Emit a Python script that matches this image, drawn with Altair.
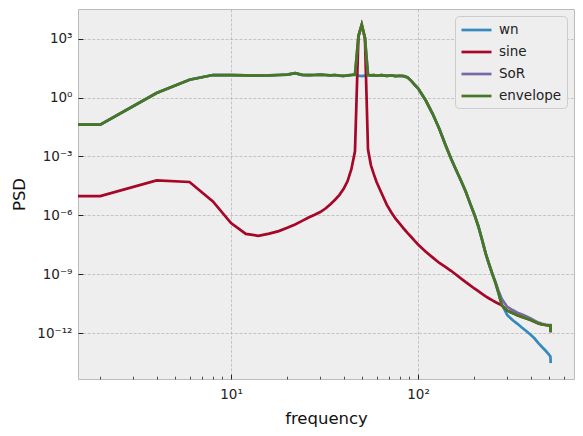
import altair as alt
import pandas as pd

# ---- data (PSD values given as log10 exponents) ----
freq = [1, 2, 4, 6, 8, 10, 12, 14, 16, 18, 20, 22, 24, 26, 28, 30, 32, 34, 36, 38,
        40, 42, 44, 46, 48, 50, 52, 54, 56, 58, 60, 64, 68, 72, 76, 80, 84, 88, 92, 96,
        100, 110, 120, 130, 140, 150, 160, 170, 180, 190, 200, 210, 220, 230, 240, 250,
        260, 270, 280, 290, 300, 320, 340, 360, 380, 400, 420, 440, 460, 480, 500, 510, 512]

wn_log10 = [-1.38, -1.38, 0.23, 0.91, 1.15, 1.14, 1.13, 1.12, 1.13, 1.15, 1.17, 1.24, 1.16, 1.14, 1.15, 1.17, 1.15, 1.13, 1.15, 1.12,
            1.10, 1.13, 1.15, 1.17, 1.12, 1.09, 1.12, 1.15, 1.13, 1.14, 1.12, 1.14, 1.11, 1.13, 1.09, 1.11, 1.09, 1.02, 0.85, 0.65,
            0.47, -0.15, -0.85, -1.6, -2.4, -3.1, -3.7, -4.25, -4.8, -5.4, -5.95, -6.55, -7.25, -7.95, -8.5, -9.0,
            -9.47, -10.0, -10.55, -10.8, -11.08, -11.33, -11.52, -11.72, -11.9, -12.08, -12.27, -12.5, -12.7, -12.88, -13.08, -13.18, -13.52]

sine_log10 = [-5.02, -5.02, -4.22, -4.30, -5.29, -6.39, -6.94, -7.04, -6.93, -6.8, -6.63, -6.46, -6.28, -6.11, -5.97, -5.83, -5.65, -5.43, -5.2, -4.95,
              -4.65, -4.25, -3.65, -2.74, 3.12, 3.71, 3.04, -2.65, -3.45, -3.9, -4.3, -4.9, -5.45, -5.85, -6.18, -6.43, -6.68, -6.9, -7.1, -7.3,
              -7.48, -7.85, -8.15, -8.42, -8.62, -8.82, -9.02, -9.22, -9.4, -9.56, -9.72, -9.86, -10.0, -10.12, -10.23, -10.33,
              -10.42, -10.5, -10.57, -10.72, -10.85, -10.97, -11.08, -11.17, -11.25, -11.33, -11.42, -11.5, -11.55, -11.58, -11.6, -11.6, -11.95]

sor_log10 = [-1.38, -1.38, 0.23, 0.91, 1.15, 1.14, 1.13, 1.12, 1.13, 1.15, 1.17, 1.24, 1.16, 1.14, 1.15, 1.17, 1.15, 1.13, 1.15, 1.12,
             1.10, 1.13, 1.15, 1.17, 3.12, 3.71, 3.04, 1.15, 1.13, 1.14, 1.12, 1.14, 1.11, 1.13, 1.09, 1.11, 1.09, 1.02, 0.85, 0.65,
             0.47, -0.15, -0.85, -1.6, -2.4, -3.1, -3.7, -4.25, -4.8, -5.4, -5.95, -6.55, -7.25, -7.95, -8.5, -9.0,
             -9.42, -9.88, -10.25, -10.46, -10.66, -10.82, -10.95, -11.05, -11.15, -11.25, -11.36, -11.46, -11.52, -11.56, -11.59, -11.59, -11.94]

env_log10 = [-1.38, -1.38, 0.23, 0.91, 1.15, 1.14, 1.13, 1.12, 1.13, 1.15, 1.17, 1.24, 1.16, 1.14, 1.15, 1.17, 1.15, 1.13, 1.15, 1.12,
             1.10, 1.13, 1.15, 1.17, 3.12, 3.71, 3.04, 1.15, 1.13, 1.14, 1.12, 1.14, 1.11, 1.13, 1.09, 1.11, 1.09, 1.02, 0.85, 0.65,
             0.47, -0.15, -0.85, -1.6, -2.4, -3.1, -3.7, -4.25, -4.8, -5.4, -5.95, -6.55, -7.25, -7.95, -8.5, -9.0,
             -9.47, -10.0, -10.55, -10.72, -10.85, -10.97, -11.08, -11.17, -11.25, -11.33, -11.42, -11.5, -11.55, -11.58, -11.6, -11.6, -11.95]

series_names = ["wn", "sine", "SoR", "envelope"]
series_colors = ["#348ABD", "#A60628", "#7A68A6", "#467821"]

x_major_ticks = [10, 100]
x_minor_ticks = [2, 3, 4, 5, 6, 7, 8, 9, 20, 30, 40, 50, 60, 70, 80, 90, 200, 300, 400, 500, 600]
y_major_ticks = [1e3, 1e0, 1e-3, 1e-6, 1e-9, 1e-12]

rows = []
for name, vals in zip(series_names, [wn_log10, sine_log10, sor_log10, env_log10]):
    for f, v in zip(freq, vals):
        rows.append({"frequency": f, "PSD": 10.0 ** v, "series": name})
df = pd.DataFrame(rows)

FONT = "DejaVu Sans"
xscale = alt.Scale(type="log", domain=[1.52, 682], nice=False)
yscale = alt.Scale(type="log", domain=[10 ** -14.33, 10 ** 4.51], nice=False)

TICK = 4.8
x_axis = alt.Axis(
    values=x_major_ticks, title="frequency", offset=-TICK, tickSize=TICK, tickColor="#222222",
    tickWidth=1, domain=False, grid=True, gridColor="#b2b2b2", gridDash=[3, 1.6], gridWidth=0.7,
    labelExpr="datum.value > 50 ? '10²' : '10¹'", labelFont=FONT, labelFontSize=13.5,
    labelColor="#222222", labelPadding=8, titleFont=FONT, titleFontSize=16.5,
    titleFontWeight="normal", titleColor="#111111", titlePadding=10,
)
y_axis = alt.Axis(
    values=y_major_ticks, title="PSD", offset=-TICK, tickSize=TICK, tickColor="#222222",
    tickWidth=1, domain=False, grid=True, gridColor="#b2b2b2", gridDash=[3, 1.6], gridWidth=0.7,
    labelExpr=("datum.value > 100 ? '10³' : datum.value > 0.1 ? '10⁰' : "
               "datum.value > 0.0001 ? '10⁻³' : datum.value > 0.0000001 ? '10⁻⁶' : "
               "datum.value > 0.0000000001 ? '10⁻⁹' : '10⁻¹²'"),
    labelFont=FONT, labelFontSize=13.5, labelColor="#222222", labelPadding=6,
    titleFont=FONT, titleFontSize=16.5, titleFontWeight="normal", titleColor="#111111",
    titlePadding=9,
)
x_minor_axis = alt.Axis(
    values=x_minor_ticks, title=None, offset=-2.8, tickSize=2.8, tickWidth=0.8,
    tickColor="#222222", domain=False, grid=False, labels=False, orient="bottom",
)

color = alt.Color(
    "series:N",
    scale=alt.Scale(domain=series_names, range=series_colors),
    legend=alt.Legend(
        title=None, orient="top-right", offset=7, symbolType="M-1,0H3", symbolSize=225,
        symbolStrokeWidth=2.7, labelFont=FONT, labelFontSize=13.5, labelColor="#222222",
        labelOffset=21, rowPadding=6, padding=5, fillColor="#eeeeee",
        strokeColor="#cccccc", cornerRadius=4,
    ),
)

layers = []
for i, name in enumerate(series_names):
    layers.append(
        alt.Chart(df[df["series"] == name])
        .mark_line(strokeWidth=2.7, clip=True)
        .encode(
            x=alt.X("frequency:Q", scale=xscale, axis=x_axis if i == 0 else None),
            y=alt.Y("PSD:Q", scale=yscale, axis=y_axis),
            color=color,
        )
    )

minor = (
    alt.Chart(df[df["series"] == "wn"])
    .mark_line(opacity=0, clip=True)
    .encode(
        x=alt.X("frequency:Q", scale=xscale, axis=x_minor_axis),
        y=alt.Y("PSD:Q", scale=yscale, axis=y_axis),
    )
)

chart = (
    alt.layer(*layers, minor)
    .resolve_axis(x="independent")
    .properties(
        width=496, height=370,
        autosize=alt.AutoSizeParams(type="none"),
        padding={"left": 78, "top": 9, "right": 9, "bottom": 57},
        background="white",
    )
    .configure_view(fill="#eeeeee", stroke="#bcbcbc", strokeWidth=1)
)

chart.save("out.html", embed_options={"renderer": "svg", "actions": False})
